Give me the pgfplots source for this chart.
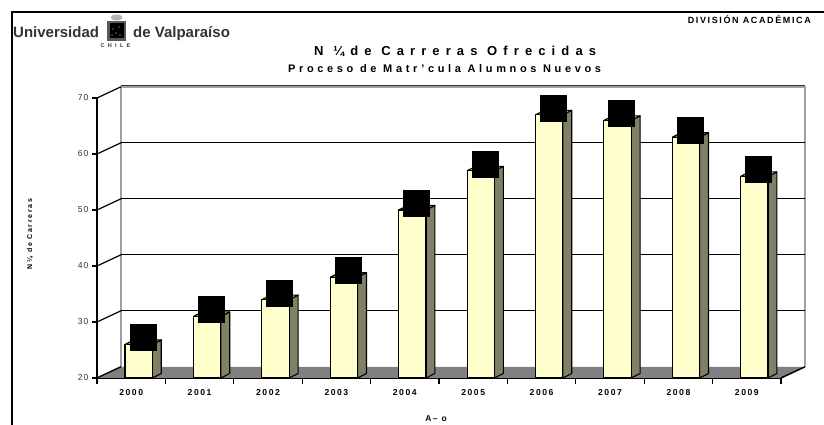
\documentclass[border=0pt]{standalone}
\usepackage{fontspec}
\setmainfont{Liberation Sans}
\usepackage{pgfplots}
\usepackage{pgfplotstable}
\pgfplotsset{compat=1.18}
\definecolor{barfront}{HTML}{FFFFCC}
\definecolor{barside}{HTML}{808066}
\definecolor{bartop}{HTML}{EEEEC4}
\definecolor{floorgray}{HTML}{808080}
\definecolor{wallgray}{HTML}{A0A0A0}
\definecolor{logogray}{HTML}{333333}

\pgfplotstableread{
x v
0 26
1 31
2 34
3 38
4 50
5 57
6 67
7 66
8 63
9 56
}\datatable

\begin{document}
\begin{tikzpicture}[x=1pt,y=1pt]
\path[use as bounding box] (0,0) rectangle (824,425);
% frame
\draw[line width=2pt,black] (12,0) -- (12,413) -- (824,413);
% logo
\node[anchor=base west,inner sep=0,text=logogray,font=\fontsize{15}{16}\selectfont\bfseries] at (13,387.7) {Universidad};
\node[anchor=base west,inner sep=0,text=logogray,font=\fontsize{15}{16}\selectfont\bfseries] at (133,387.7) {de Valparaíso};
\fill[gray!70!black] (107,384) rectangle (126,404);
\fill[black] (109.5,386.5) rectangle (123.5,401.5);
\fill[gray!60] (116.5,407.5) ellipse (6 and 3);
\foreach \p in {(113,396),(119,398),(116,392),(112,390),(120,390)} \fill[white!70!gray] \p circle (0.7);
\node[anchor=base,inner sep=0,text=logogray,font=\fontsize{5.5}{6}\selectfont\bfseries\addfontfeature{LetterSpace=60}] at (115.5,377.7) {CHILE};
\node[anchor=base east,inner sep=0,font=\fontsize{9}{10}\selectfont\bfseries\addfontfeature{LetterSpace=18}] at (811,401.7) {DIVISIÓN ACADÉMICA};
% titles
\node[anchor=base west,inner sep=0,font=\fontsize{13}{14}\selectfont\bfseries\addfontfeature{LetterSpace=47}] at (314,369) {N ¼de Carreras Ofrecidas};
\node[anchor=base west,inner sep=0,font=\fontsize{11}{12}\selectfont\bfseries\addfontfeature{LetterSpace=33}] at (288,352.3) {Proceso de Matr'cula Alumnos Nuevos};
% axis labels
\node[rotate=90,inner sep=0,font=\fontsize{7}{8}\selectfont\bfseries\addfontfeature{LetterSpace=24}] at (30,191) {N¼ de Carreras};
\node[inner sep=0,font=\fontsize{8.5}{9}\selectfont\bfseries\addfontfeature{LetterSpace=18}] at (436,6) {A– o};
\begin{axis}[
  at={(97pt,47pt)}, anchor=south west,
  scale only axis, width=684pt, height=280pt,
  xmin=-0.5, xmax=9.5, ymin=20, ymax=70,
  clip=false,
  axis x line*=bottom, axis y line*=left,
  axis line style={black, line width=1.5pt},
  ytick={20,30,...,70},
  xtick={0,...,9},
  xticklabels={2000,2001,2002,2003,2004,2005,2006,2007,2008,2009},
  minor xtick={-0.5,0.5,...,9.5},
  major x tick style={draw=none},
  tick align=outside,
  major tick length=5pt, minor tick length=6pt,
  tick style={black, line width=1.2pt},
  /pgf/number format/assume math mode=true,
  yticklabel style={font=\fontsize{8.6}{10}\selectfont\addfontfeature{LetterSpace=12}, text=black!80},
  xticklabel style={font=\fontsize{8.6}{10}\selectfont\bfseries\addfontfeature{LetterSpace=18}, yshift=-3pt},
]
% back wall
\fill[white] (axis cs:-0.15,22) rectangle (axis cs:9.85,72);
\draw[wallgray, line width=1.5pt] (axis cs:-0.15,22) -- (axis cs:-0.15,72) -- (axis cs:9.85,72) -- (axis cs:9.85,22);
\draw[black!80, line width=1pt] (axis cs:-0.15,72.3) -- (axis cs:9.85,72.3);
\pgfplotsinvokeforeach{32,42,52,62}{
  \draw[black, line width=1.2pt] (axis cs:-0.15,#1) -- (axis cs:9.85,#1);
}
\pgfplotsinvokeforeach{20,30,40,50,60,70}{
  \draw[black, line width=1.2pt] (axis cs:-0.5,#1) -- ++(axis direction cs:0.35,2);
}
% floor
\fill[floorgray] (axis cs:-0.5,20) -- (axis cs:9.5,20) -- (axis cs:9.85,22) -- (axis cs:-0.15,22) -- cycle;
\draw[black, line width=1.2pt] (axis cs:-0.5,20) -- (axis cs:-0.15,22);
\draw[black, line width=1.5pt] (axis cs:9.5,20) -- (axis cs:9.85,22);
% bars
\pgfplotsinvokeforeach{0,...,9}{
  \pgfplotstablegetelem{#1}{v}\of\datatable
  \pgfmathsetmacro\bv{\pgfplotsretval}
  \pgfmathsetmacro\bl{#1+0.11-0.2}
  \pgfmathsetmacro\br{#1+0.11+0.2}
  \pgfmathsetmacro\bbr{#1+0.11+0.2+0.13}
  \pgfmathsetmacro\bbl{#1+0.11-0.2+0.13}
  \pgfmathsetmacro\bvt{\bv+0.8}
  \edef\barcmd{%
    \noexpand\addplot[forget plot, draw=black, line width=1.1pt, fill=barside, line join=round] coordinates {(\br,20) (\bbr,20.8) (\bbr,\bvt) (\br,\bv) (\br,20)};
    \noexpand\addplot[forget plot, draw=black, line width=1.1pt, fill=bartop, line join=round] coordinates {(\bl,\bv) (\br,\bv) (\bbr,\bvt) (\bbl,\bvt) (\bl,\bv)};
    \noexpand\addplot[forget plot, draw=black, line width=1.1pt, fill=barfront, line join=round] coordinates {(\bl,20) (\br,20) (\br,\bv) (\bl,\bv) (\bl,20)};
  }\barcmd
}
% black label boxes
\addplot[forget plot, only marks, mark=square*, mark size=13pt, mark options={fill=black, draw=black}] table[x expr=\thisrow{x}+0.17, y expr=\thisrow{v}+1.2] {\datatable};
\end{axis}
\end{tikzpicture}
\end{document}
